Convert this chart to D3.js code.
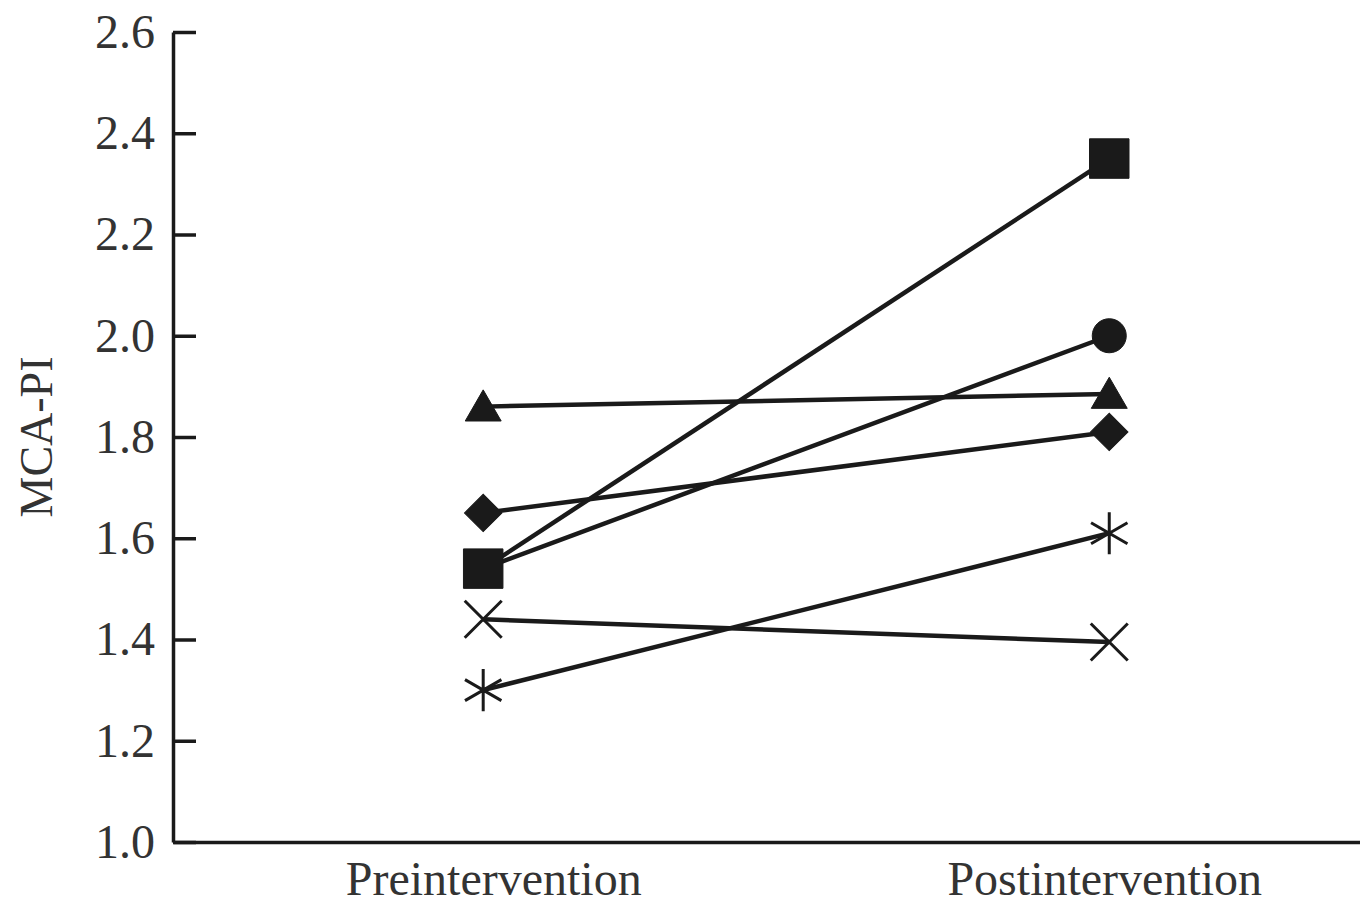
<html>
<head>
  <meta charset="utf-8">
  <title>MCA-PI</title>
  <script src="https://d3js.org/d3.v7.min.js"></script>
  <style>
    body { margin: 0; background: #fff; }
    text { font-family: "Liberation Serif", serif; fill: #333; }
  </style>
</head>
<body>
  <svg id="chart" width="1360" height="908"></svg>
  <script>
    // data
    var categories = ["Preintervention", "Postintervention"];
    var yTicks = [1.0, 1.2, 1.4, 1.6, 1.8, 2.0, 2.2, 2.4, 2.6];
    var squareVals = [1.54, 2.35];
    var circleVals = [1.54, 2.00];
    var triangleVals = [1.86, 1.885];
    var diamondVals = [1.65, 1.81];
    var asteriskVals = [1.30, 1.61];
    var crossVals = [1.44, 1.395];

    var series = [
      { vals: crossVals, shape: "times" },
      { vals: asteriskVals, shape: "asterisk" },
      { vals: diamondVals, shape: "diamond" },
      { vals: triangleVals, shape: "triangle" },
      { vals: circleVals, shape: "circle" },
      { vals: squareVals, shape: "square" }
    ];

    var svg = d3.select("#chart");
    var ink = "#1a1a1a";

    var x = d3.scalePoint()
      .domain(categories)
      .range([173, 1360])
      .padding(0.448)
      .align(0.553);

    var y = d3.scaleLinear()
      .domain([1.0, 2.6])
      .range([842, 32]);

    // y axis, ticks pointing inward
    var yAxis = svg.append("g")
      .attr("transform", "translate(173,0)")
      .call(d3.axisLeft(y).tickValues(yTicks).tickFormat(d3.format(".1f"))
        .tickSize(-23).tickSizeOuter(0).tickPadding(18));
    yAxis.select(".domain").attr("stroke", ink).attr("stroke-width", 3.5);
    yAxis.selectAll(".tick line").attr("stroke", ink).attr("stroke-width", 3.5);
    yAxis.selectAll(".tick text").style("font-size", "48px").attr("fill", "#333");

    // x axis
    var xAxis = svg.append("g")
      .attr("transform", "translate(0,842)")
      .call(d3.axisBottom(x).tickSize(0).tickSizeOuter(0).tickPadding(19));
    xAxis.select(".domain").attr("stroke", ink).attr("stroke-width", 3.5);
    xAxis.selectAll(".tick text").style("font-size", "48px").attr("fill", "#333")
      .attr("dx", function (d, i) { return i === 0 ? 10 : -5; });

    // y axis title
    svg.append("text")
      .attr("transform", "translate(52,437) rotate(-90)")
      .attr("text-anchor", "middle")
      .style("font-size", "46px")
      .text("MCA-PI");

    // lines
    var line = d3.line()
      .x(function (d, i) { return x(categories[i]); })
      .y(function (d) { return y(d); });

    svg.selectAll(".series-line")
      .data(series)
      .enter()
      .append("path")
      .attr("class", "series-line")
      .attr("d", function (d) { return line(d.vals); })
      .attr("fill", "none")
      .attr("stroke", ink)
      .attr("stroke-width", 4.5);

    // markers
    var symbols = {
      square: { type: d3.symbolSquare, size: 1560, filled: true, rot: 0 },
      circle: { type: d3.symbolCircle, size: 910, filled: true, rot: 0 },
      triangle: { type: d3.symbolTriangle, size: 560, filled: true, rot: 0 },
      diamond: { type: d3.symbolSquare, size: 700, filled: true, rot: 45 },
      asterisk: { type: d3.symbolAsterisk, size: 1250, filled: false, rot: 0 },
      times: { type: d3.symbolTimes, size: 895, filled: false, rot: 0 }
    };

    series.forEach(function (s) {
      var sym = symbols[s.shape];
      svg.selectAll(null)
        .data(s.vals)
        .enter()
        .append("path")
        .attr("d", d3.symbol().type(sym.type).size(sym.size))
        .attr("transform", function (d, i) {
          var dy = s.shape === "triangle" ? 4 : 0;
          return "translate(" + x(categories[i]) + "," + (y(d) + dy) + ") rotate(" + sym.rot + ")";
        })
        .attr("fill", sym.filled ? ink : "none")
        .attr("stroke", ink)
        .attr("stroke-width", sym.filled ? 1 : 3);
    });
  </script>
</body>
</html>
